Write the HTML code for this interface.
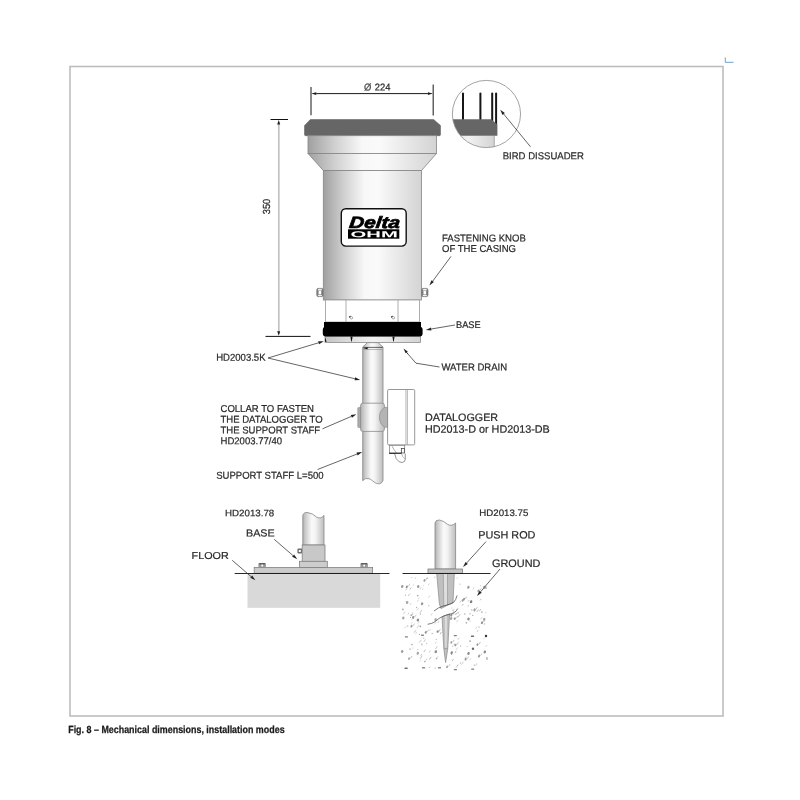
<!DOCTYPE html>
<html lang="en"><head><meta charset="utf-8"><title>Fig. 8 – Mechanical dimensions, installation modes</title>
<style>
html,body{margin:0;padding:0;background:#fff;}
body{width:800px;height:800px;overflow:hidden;position:relative;font-family:"Liberation Sans",sans-serif;}
svg{position:absolute;left:0;top:0;display:block;will-change:transform;}
svg text{font-family:"Liberation Sans",sans-serif;fill:#2a2a2a;stroke:#2a2a2a;stroke-width:0.22px;}
</style></head><body>
<svg width="800" height="800" viewBox="0 0 800 800">
<defs>
<linearGradient id="gBody" x1="0" x2="1" y1="0" y2="0">
 <stop offset="0" stop-color="#a0a0a0"/><stop offset="0.2" stop-color="#cecece"/><stop offset="0.42" stop-color="#f8f8f8"/><stop offset="0.56" stop-color="#fafafa"/><stop offset="1" stop-color="#d3d3d3"/>
</linearGradient>
<linearGradient id="gStaff" x1="0" x2="1" y1="0" y2="0">
 <stop offset="0" stop-color="#b2b2b2"/><stop offset="0.15" stop-color="#cfcfcf"/><stop offset="0.42" stop-color="#fafafa"/><stop offset="0.6" stop-color="#f3f3f3"/><stop offset="1" stop-color="#bdbdbd"/>
</linearGradient>
<linearGradient id="gPlate" x1="0" x2="1" y1="0" y2="0">
 <stop offset="0" stop-color="#c4c4c4"/><stop offset="0.5" stop-color="#f2f2f2"/><stop offset="1" stop-color="#d4d4d4"/>
</linearGradient>
<filter id="fBlur" x="-5%" y="-5%" width="110%" height="110%"><feGaussianBlur stdDeviation="0.35"/></filter>
<clipPath id="cDet"><ellipse cx="486.45" cy="114" rx="34" ry="33.5"/></clipPath>
</defs>
<rect x="70" y="66.5" width="653" height="649.5" fill="none" stroke="#bdbdbd" stroke-width="1.6"/>
<path d="M725.3 57.5 V62.3 H733.5" fill="none" stroke="#6f9fd4" stroke-width="1"/>
<line x1="311" y1="87" x2="311" y2="115.3" stroke="#3c3c3c" stroke-width="1.2"/>
<line x1="433.2" y1="84.5" x2="433.2" y2="115.5" stroke="#3c3c3c" stroke-width="1.2"/>
<line x1="372" y1="93.6" x2="316.30" y2="93.60" stroke="#1a1a1a" stroke-width="1.0"/><polygon points="311.3,93.6 316.30,92.30 316.30,94.90" fill="#1a1a1a"/>
<line x1="372" y1="93.6" x2="427.90" y2="93.60" stroke="#1a1a1a" stroke-width="1.0"/><polygon points="432.9,93.6 427.90,94.90 427.90,92.30" fill="#1a1a1a"/>
<text transform="translate(364.0 90.6) rotate(0.03) scale(1 1.05)" font-size="9.4" text-anchor="start" style="fill:#555">&#216;</text>
<text transform="translate(374.8 90.6) rotate(0.03) scale(1 1.05)" font-size="9.4" text-anchor="start" >224</text>
<line x1="270.5" y1="119.5" x2="288" y2="119.5" stroke="#111" stroke-width="1"/>
<line x1="265.5" y1="336.4" x2="310.5" y2="336.4" stroke="#111" stroke-width="1"/>
<line x1="278.8" y1="122" x2="278.8" y2="334" stroke="#c2c2c2" stroke-width="1.7"/>
<polygon points="278.7,120 280.2,124.6 277.2,124.6" fill="#222"/>
<polygon points="278.7,335.8 280.2,331.2 277.2,331.2" fill="#222"/>
<text transform="translate(270,206.5) rotate(-90.03) scale(1 1.1)" font-size="9.3" text-anchor="middle">350</text>
<path d="M310.3 119.5 H433.7 L440.5 125.5 V134.5 Q440.5 135.7 439.3 135.7 H305.7 Q304.5 135.7 304.5 134.5 V125.5 Z" fill="#666666" stroke="#5a5a5a" stroke-width="0.5"/>
<rect x="308" y="135.7" width="128.5" height="17.8" fill="url(#gBody)" stroke="#858585" stroke-width="0.8"/>
<path d="M308 153.5 H436.5 L421.5 170.5 H323.3 Z" fill="url(#gBody)" stroke="#858585" stroke-width="0.8"/>
<rect x="323.3" y="170.5" width="98.2" height="129.5" fill="url(#gBody)" stroke="#858585" stroke-width="0.8"/>
<rect x="316.6" y="288.3" width="6.6" height="8.4" rx="1.6" fill="#7c7c7c" stroke="#6a6a6a" stroke-width="0.4"/><ellipse cx="319.90000000000003" cy="289.65000000000003" rx="2.18" ry="0.85" fill="#f2f2f2"/><ellipse cx="319.90000000000003" cy="295.34999999999997" rx="2.18" ry="0.85" fill="#f2f2f2"/><rect x="318.6" y="290.9" width="2.6" height="3.2" fill="#fff"/>
<rect x="421.5" y="288.3" width="6.6" height="8.4" rx="1.6" fill="#7c7c7c" stroke="#6a6a6a" stroke-width="0.4"/><ellipse cx="424.8" cy="289.65000000000003" rx="2.18" ry="0.85" fill="#f2f2f2"/><ellipse cx="424.8" cy="295.34999999999997" rx="2.18" ry="0.85" fill="#f2f2f2"/><rect x="423.5" y="290.9" width="2.6" height="3.2" fill="#fff"/>
<rect x="325.5" y="300" width="94" height="22" fill="#fff" stroke="#999" stroke-width="0.8"/>
<line x1="346" y1="300" x2="346" y2="322" stroke="#999" stroke-width="0.8"/>
<line x1="398" y1="300" x2="398" y2="322" stroke="#999" stroke-width="0.8"/>
<ellipse cx="351.1" cy="317.6" rx="1.6" ry="1.2" fill="#fff" stroke="#555" stroke-width="0.5" transform="rotate(30 351.1 317.6)"/>
<circle cx="349.9" cy="316.8" r="0.8" fill="#222"/>
<ellipse cx="393.1" cy="317.6" rx="1.6" ry="1.2" fill="#fff" stroke="#555" stroke-width="0.5" transform="rotate(30 393.1 317.6)"/>
<circle cx="391.9" cy="316.8" r="0.8" fill="#222"/>
<rect x="325" y="336" width="95.5" height="6.4" fill="url(#gPlate)" stroke="#8a8a8a" stroke-width="0.8"/>
<rect x="324" y="322" width="97" height="6" fill="#000"/>
<rect x="322.8" y="326.8" width="99.8" height="9.8" rx="3" fill="#000"/>
<polygon points="350.4,336.6 352.6,336.6 351.8,341.4 351.2,341.4" fill="#111"/>
<polygon points="392.4,336.6 394.6,336.6 393.8,341.4 393.2,341.4" fill="#111"/>
<polygon points="325,337.2 326.6,341.8 325,341.8" fill="#111"/>
<path d="M367.5 342.6 H378 L383 347 V480.5 Q382 483.2 379.5 483.7 C375 484.5 373 480 369 478.7 Q365 477.6 362.7 480.7 V347 Z" fill="url(#gStaff)" stroke="#858585" stroke-width="0.8"/>
<line x1="363.2" y1="347.4" x2="382.6" y2="347.4" stroke="#2a2a2a" stroke-width="0.7"/>
<line x1="363.2" y1="349.5" x2="382.6" y2="349.5" stroke="#8a8a8a" stroke-width="0.6"/>
<polygon points="363.4,348.3 367.6,347.2 367.6,349.3" fill="#111"/>
<rect x="387.6" y="389.5" width="27.1" height="55.4" rx="1.2" fill="#fff" stroke="#8c8c8c" stroke-width="0.9"/>
<line x1="405.9" y1="389.5" x2="405.9" y2="444.9" stroke="#9a9a9a" stroke-width="0.7"/>
<line x1="407.4" y1="389.5" x2="407.4" y2="444.9" stroke="#9a9a9a" stroke-width="0.7"/>
<rect x="389.5" y="445.3" width="15.2" height="8" fill="#fff" stroke="#777" stroke-width="0.7"/>
<rect x="401.3" y="448.5" width="3" height="4.5" fill="#fff" stroke="#333" stroke-width="0.7"/>
<path d="M392 446 Q394 450 396.5 453" fill="none" stroke="#777" stroke-width="0.6"/>
<path d="M394.6 453.6 Q395.6 459.6 399.2 461.8 Q402.5 463.4 404.6 461.4 Q405.8 459.8 405.2 453.6" fill="#fff" stroke="#666" stroke-width="0.7"/>
<path d="M401.4 453.6 Q402.4 457 405.3 459.2" fill="none" stroke="#888" stroke-width="0.6"/>
<line x1="389.2" y1="453.2" x2="401.6" y2="453.2" stroke="#111" stroke-width="1.1"/>
<rect x="357.8" y="407.4" width="3.4" height="20.2" rx="0.8" fill="#ababab" stroke="#8a8a8a" stroke-width="0.6"/>
<rect x="360.6" y="403.2" width="23.8" height="28.2" rx="2.2" fill="url(#gStaff)" stroke="#8a8a8a" stroke-width="0.8"/>
<path d="M387.5 407.4 H384.5 Q379.4 411 379.4 417.3 Q379.4 423.6 384.5 427.2 H387.5 Z" fill="#b4b4b4" stroke="#8a8a8a" stroke-width="0.7"/>
<g clip-path="url(#cDet)">
<rect x="440" y="135.7" width="54.5" height="20" fill="url(#gPlate)"/>
<line x1="494.2" y1="135.7" x2="494.2" y2="150" stroke="#aaa" stroke-width="1"/>
<line x1="463" y1="93.6" x2="463" y2="119.5" stroke="#161616" stroke-width="2" stroke-linecap="round"/>
<line x1="480.4" y1="93.6" x2="480.4" y2="119.5" stroke="#161616" stroke-width="2" stroke-linecap="round"/>
<line x1="492.2" y1="93.6" x2="492.2" y2="121" stroke="#161616" stroke-width="2" stroke-linecap="round"/>
<line x1="496.1" y1="93.6" x2="496.1" y2="124.6" stroke="#161616" stroke-width="2" stroke-linecap="round"/>
<path d="M440 119.3 H491.2 L497.4 124.6 V135.8 H440 Z" fill="#666"/>
</g>
<ellipse cx="486.45" cy="114" rx="34.1" ry="33.6" fill="none" stroke="#8c8c8c" stroke-width="0.8"/>
<line x1="530.5" y1="146.8" x2="503.68" y2="114.06" stroke="#222" stroke-width="0.7"/><polygon points="500.2,109.8 504.85,113.10 502.52,115.01" fill="#222"/>
<text transform="translate(502.7 159.3) rotate(0.03) scale(1 1.05)" font-size="9.55" text-anchor="start" >BIRD DISSUADER</text>
<text transform="translate(442 241.4) rotate(0.03) scale(1 1.05)" font-size="9.55" text-anchor="start" >FASTENING KNOB</text>
<text transform="translate(442 252.0) rotate(0.03) scale(1 1.05)" font-size="9.55" text-anchor="start" >OF THE CASING</text>
<line x1="451" y1="256.4" x2="432.67" y2="281.18" stroke="#222" stroke-width="0.7"/><polygon points="429.4,285.6 431.46,280.29 433.88,282.07" fill="#222"/>
<text transform="translate(456 328.1) rotate(0.03) scale(1 1.05)" font-size="9.2" text-anchor="start" >BASE</text>
<line x1="455" y1="325" x2="431.22" y2="328.99" stroke="#222" stroke-width="0.7"/><polygon points="425.8,329.9 430.98,327.51 431.47,330.47" fill="#222"/>
<text transform="translate(441.4 370.4) rotate(0.03) scale(1 1.05)" font-size="9.55" text-anchor="start" >WATER DRAIN</text>
<path d="M439.5 367 L416 363.2 L406 351.8" fill="none" stroke="#222" stroke-width="0.7"/>
<line x1="408" y1="354" x2="406.70" y2="352.44" stroke="#222" stroke-width="0.7"/><polygon points="403.5,348.6 407.78,351.54 405.63,353.34" fill="#222"/>
<text transform="translate(216.2 360.8) rotate(0.03) scale(1 1.05)" font-size="9.55" text-anchor="start" >HD2003.5K</text>
<line x1="268" y1="358" x2="318.53" y2="342.79" stroke="#222" stroke-width="0.7"/><polygon points="323.8,341.2 318.97,344.22 318.10,341.35" fill="#222"/>
<line x1="268" y1="358" x2="354.85" y2="378.72" stroke="#222" stroke-width="0.7"/><polygon points="360.2,380 354.50,380.18 355.20,377.26" fill="#222"/>
<text transform="translate(220.5 412.0) rotate(0.03) scale(1 1.05)" font-size="9.55" text-anchor="start" >COLLAR TO FASTEN</text>
<text transform="translate(220.5 422.75) rotate(0.03) scale(1 1.05)" font-size="9.55" text-anchor="start" >THE DATALOGGER TO</text>
<text transform="translate(220.5 433.5) rotate(0.03) scale(1 1.05)" font-size="9.55" text-anchor="start" >THE SUPPORT STAFF</text>
<text transform="translate(220.5 444.25) rotate(0.03) scale(1 1.05)" font-size="9.55" text-anchor="start" >HD2003.77/40</text>
<line x1="322.5" y1="428.8" x2="351.35" y2="416.38" stroke="#222" stroke-width="0.7"/><polygon points="356.4,414.2 351.94,417.75 350.76,415.00" fill="#222"/>
<text transform="translate(216.2 478.8) rotate(0.03) scale(1 1.05)" font-size="9.55" text-anchor="start" >SUPPORT STAFF L=500</text>
<line x1="317.5" y1="469.5" x2="357.08" y2="454.01" stroke="#222" stroke-width="0.7"/><polygon points="362.2,452 357.63,455.40 356.53,452.61" fill="#222"/>
<text transform="translate(425.0 421) rotate(0.03) scale(1 1.0)" font-size="10.75" text-anchor="start" >DATALOGGER</text>
<text transform="translate(425.0 432.8) rotate(0.03) scale(1 1.0)" font-size="10.8" text-anchor="start" >HD2013-D or HD2013-DB</text>
<text transform="translate(225.0 516.3) rotate(0.03) scale(1 0.97)" font-size="9.75" text-anchor="start" >HD2013.78</text>
<text transform="translate(246 536.5) rotate(0.03) scale(1 0.96)" font-size="10.75" text-anchor="start" >BASE</text>
<text transform="translate(191.6 558.9) rotate(0.03) scale(1 0.93)" font-size="10.8" text-anchor="start" >FLOOR</text>
<rect x="247.5" y="573.5" width="132.7" height="34.3" fill="#d9d9d9"/>
<path d="M302.8 545 V515.5 Q303.5 512 308 512.6 Q313 513.6 316.5 517 Q320.5 519.5 324 515.4 V545 Z" fill="url(#gStaff)" stroke="#858585" stroke-width="0.8"/>
<rect x="297.4" y="548.4" width="4.8" height="5.1" rx="1" fill="#6e6e6e"/><rect x="298.8" y="550" width="2" height="2" fill="#fff"/>
<rect x="302.2" y="545" width="22.8" height="16.4" fill="#c8c8c8" stroke="#808080" stroke-width="0.8"/>
<rect x="299.5" y="561.3" width="27.8" height="6.3" fill="#cdcdcd" stroke="#808080" stroke-width="0.8"/>
<rect x="258.4" y="563" width="7.5" height="4.6" rx="1.2" fill="#9a9a9a"/>
<rect x="259.0" y="563" width="6.3" height="1.5" rx="0.7" fill="#5e5e5e"/>
<rect x="261.4" y="564.6" width="1.7" height="1.9" fill="#fff"/>
<rect x="360.4" y="563" width="7.5" height="4.6" rx="1.2" fill="#9a9a9a"/>
<rect x="361.0" y="563" width="6.3" height="1.5" rx="0.7" fill="#5e5e5e"/>
<rect x="363.4" y="564.6" width="1.7" height="1.9" fill="#fff"/>
<rect x="254.2" y="567.5" width="118.4" height="5.8" fill="#cbcbcb" stroke="#808080" stroke-width="0.8"/>
<line x1="234.7" y1="573.5" x2="389.5" y2="573.5" stroke="#111" stroke-width="0.9"/>
<line x1="274.2" y1="539.3" x2="293.14" y2="555.70" stroke="#222" stroke-width="0.7"/><polygon points="297.3,559.3 292.16,556.83 294.12,554.57" fill="#222"/>
<line x1="232.2" y1="560.3" x2="251.23" y2="576.71" stroke="#222" stroke-width="0.7"/><polygon points="255.4,580.3 250.25,577.84 252.21,575.57" fill="#222"/>
<text transform="translate(479.3 516.1) rotate(0.03) scale(1 0.97)" font-size="9.7" text-anchor="start" >HD2013.75</text>
<text transform="translate(478.2 538.5) rotate(0.03) scale(1 0.98)" font-size="10.85" text-anchor="start" >PUSH ROD</text>
<text transform="translate(492.0 567.0) rotate(0.03) scale(1 1.0)" font-size="10.9" text-anchor="start" >GROUND</text>
<line x1="486" y1="541.6" x2="466.69" y2="562.92" stroke="#222" stroke-width="0.7"/><polygon points="463,567 465.58,561.92 467.80,563.93" fill="#222"/>
<line x1="500" y1="569" x2="480.57" y2="591.81" stroke="#222" stroke-width="0.7"/><polygon points="477,596 479.42,590.84 481.71,592.79" fill="#222"/>
<g filter="url(#fBlur)"><line x1="480.6" y1="619.4" x2="482.0" y2="617.2" stroke="#cfcfcf" stroke-width="0.9"/><line x1="417.7" y1="623.6" x2="419.3" y2="621.1" stroke="#cfcfcf" stroke-width="0.9"/><line x1="410.0" y1="604.6" x2="410.9" y2="603.2" stroke="#c4c4c4" stroke-width="0.9"/><line x1="452.6" y1="613.1" x2="454.0" y2="610.9" stroke="#cfcfcf" stroke-width="0.9"/><line x1="455.0" y1="652.7" x2="455.9" y2="651.3" stroke="#c4c4c4" stroke-width="0.9"/><line x1="418.2" y1="599.0" x2="419.0" y2="597.7" stroke="#d6d6d6" stroke-width="0.9"/><line x1="429.7" y1="630.8" x2="430.8" y2="629.2" stroke="#cfcfcf" stroke-width="0.9"/><line x1="456.4" y1="622.5" x2="458.1" y2="620.0" stroke="#d6d6d6" stroke-width="0.9"/><line x1="457.7" y1="614.0" x2="459.2" y2="611.7" stroke="#c4c4c4" stroke-width="0.9"/><line x1="462.2" y1="605.7" x2="463.3" y2="604.0" stroke="#b8b8b8" stroke-width="0.9"/><line x1="404.5" y1="628.2" x2="405.5" y2="626.8" stroke="#c4c4c4" stroke-width="0.9"/><line x1="474.0" y1="612.2" x2="476.0" y2="609.1" stroke="#c4c4c4" stroke-width="0.9"/><line x1="420.1" y1="661.4" x2="421.0" y2="660.0" stroke="#d6d6d6" stroke-width="0.9"/><line x1="485.3" y1="613.2" x2="486.2" y2="611.8" stroke="#cfcfcf" stroke-width="0.9"/><line x1="468.2" y1="601.5" x2="469.1" y2="600.1" stroke="#b8b8b8" stroke-width="0.9"/><line x1="403.3" y1="614.3" x2="405.3" y2="611.3" stroke="#cfcfcf" stroke-width="0.9"/><line x1="422.9" y1="586.2" x2="423.8" y2="584.8" stroke="#d6d6d6" stroke-width="0.9"/><line x1="417.1" y1="627.9" x2="418.5" y2="625.8" stroke="#cfcfcf" stroke-width="0.9"/><line x1="485.7" y1="647.0" x2="487.1" y2="645.0" stroke="#d6d6d6" stroke-width="0.9"/><line x1="411.9" y1="615.3" x2="413.0" y2="613.6" stroke="#b8b8b8" stroke-width="0.9"/><line x1="475.5" y1="665.7" x2="477.0" y2="663.3" stroke="#c4c4c4" stroke-width="0.9"/><line x1="419.9" y1="612.9" x2="421.8" y2="610.0" stroke="#c4c4c4" stroke-width="0.9"/><line x1="405.6" y1="590.3" x2="407.0" y2="588.2" stroke="#c4c4c4" stroke-width="0.9"/><line x1="467.7" y1="606.9" x2="468.9" y2="605.1" stroke="#c4c4c4" stroke-width="0.9"/><line x1="408.3" y1="596.0" x2="409.9" y2="593.5" stroke="#c4c4c4" stroke-width="0.9"/><line x1="453.1" y1="610.8" x2="454.5" y2="608.7" stroke="#d6d6d6" stroke-width="0.9"/><line x1="472.8" y1="589.4" x2="474.1" y2="587.4" stroke="#cfcfcf" stroke-width="0.9"/><line x1="428.4" y1="597.8" x2="430.0" y2="595.4" stroke="#cfcfcf" stroke-width="0.9"/><line x1="415.5" y1="634.2" x2="417.0" y2="631.9" stroke="#d6d6d6" stroke-width="0.9"/><line x1="477.0" y1="631.9" x2="478.3" y2="629.9" stroke="#c4c4c4" stroke-width="0.9"/><line x1="411.3" y1="623.6" x2="412.4" y2="621.9" stroke="#d6d6d6" stroke-width="0.9"/><line x1="423.8" y1="652.0" x2="425.4" y2="649.6" stroke="#b8b8b8" stroke-width="0.9"/><line x1="485.1" y1="588.5" x2="486.5" y2="586.3" stroke="#c4c4c4" stroke-width="0.9"/><line x1="425.8" y1="660.5" x2="426.9" y2="658.8" stroke="#c4c4c4" stroke-width="0.9"/><line x1="407.9" y1="614.4" x2="409.0" y2="612.7" stroke="#c4c4c4" stroke-width="0.9"/><line x1="417.0" y1="610.6" x2="418.5" y2="608.2" stroke="#cfcfcf" stroke-width="0.9"/><line x1="409.8" y1="589.6" x2="411.2" y2="587.5" stroke="#b8b8b8" stroke-width="0.9"/><line x1="457.8" y1="639.9" x2="459.4" y2="637.5" stroke="#cfcfcf" stroke-width="0.9"/><line x1="452.1" y1="661.0" x2="453.6" y2="658.9" stroke="#b8b8b8" stroke-width="0.9"/><line x1="461.6" y1="664.6" x2="462.4" y2="663.3" stroke="#c4c4c4" stroke-width="0.9"/><line x1="429.1" y1="667.9" x2="430.0" y2="666.6" stroke="#b8b8b8" stroke-width="0.9"/><line x1="464.6" y1="658.9" x2="466.4" y2="656.3" stroke="#cfcfcf" stroke-width="0.9"/><line x1="469.4" y1="660.3" x2="470.7" y2="658.3" stroke="#d6d6d6" stroke-width="0.9"/><line x1="478.6" y1="656.3" x2="479.9" y2="654.2" stroke="#c4c4c4" stroke-width="0.9"/><line x1="475.4" y1="629.1" x2="477.0" y2="626.7" stroke="#d6d6d6" stroke-width="0.9"/><line x1="434.2" y1="578.1" x2="435.1" y2="576.7" stroke="#c4c4c4" stroke-width="0.9"/><line x1="456.3" y1="667.4" x2="458.3" y2="664.5" stroke="#b8b8b8" stroke-width="0.9"/><line x1="435.0" y1="643.9" x2="436.6" y2="641.5" stroke="#d6d6d6" stroke-width="0.9"/><line x1="428.4" y1="585.0" x2="429.2" y2="583.7" stroke="#c4c4c4" stroke-width="0.9"/><line x1="480.2" y1="600.3" x2="481.1" y2="599.0" stroke="#b8b8b8" stroke-width="0.9"/><line x1="414.2" y1="632.7" x2="415.7" y2="630.4" stroke="#b8b8b8" stroke-width="0.9"/><line x1="458.1" y1="617.2" x2="460.1" y2="614.3" stroke="#b8b8b8" stroke-width="0.9"/><line x1="455.9" y1="650.1" x2="457.7" y2="647.5" stroke="#cfcfcf" stroke-width="0.9"/><line x1="476.8" y1="612.0" x2="478.4" y2="609.6" stroke="#b8b8b8" stroke-width="0.9"/><line x1="419.8" y1="589.2" x2="421.1" y2="587.3" stroke="#c4c4c4" stroke-width="0.9"/><line x1="462.5" y1="663.5" x2="463.6" y2="661.7" stroke="#cfcfcf" stroke-width="0.9"/><line x1="411.6" y1="619.9" x2="413.6" y2="616.9" stroke="#d6d6d6" stroke-width="0.9"/><line x1="434.5" y1="624.3" x2="436.2" y2="621.8" stroke="#d6d6d6" stroke-width="0.9"/><line x1="429.2" y1="652.4" x2="430.4" y2="650.6" stroke="#c4c4c4" stroke-width="0.9"/><line x1="459.7" y1="602.6" x2="460.9" y2="600.7" stroke="#c4c4c4" stroke-width="0.9"/><line x1="456.5" y1="613.9" x2="457.5" y2="612.3" stroke="#b8b8b8" stroke-width="0.9"/><line x1="422.2" y1="589.8" x2="423.1" y2="588.5" stroke="#c4c4c4" stroke-width="0.9"/><line x1="440.0" y1="634.3" x2="441.6" y2="631.8" stroke="#b8b8b8" stroke-width="0.9"/><line x1="483.5" y1="639.3" x2="484.5" y2="637.7" stroke="#d6d6d6" stroke-width="0.9"/><line x1="423.8" y1="642.0" x2="425.5" y2="639.3" stroke="#c4c4c4" stroke-width="0.9"/><line x1="417.2" y1="601.8" x2="418.5" y2="599.9" stroke="#cfcfcf" stroke-width="0.9"/><line x1="435.4" y1="649.1" x2="437.4" y2="646.1" stroke="#c4c4c4" stroke-width="0.9"/><line x1="436.9" y1="658.2" x2="438.2" y2="656.2" stroke="#d6d6d6" stroke-width="0.9"/><line x1="479.3" y1="611.3" x2="480.9" y2="609.0" stroke="#b8b8b8" stroke-width="0.9"/><line x1="419.4" y1="642.7" x2="421.3" y2="639.9" stroke="#c4c4c4" stroke-width="0.9"/><line x1="420.1" y1="658.9" x2="422.2" y2="655.8" stroke="#b8b8b8" stroke-width="0.9"/><line x1="429.2" y1="659.8" x2="431.1" y2="656.9" stroke="#b8b8b8" stroke-width="0.9"/><line x1="431.1" y1="615.3" x2="432.2" y2="613.6" stroke="#c4c4c4" stroke-width="0.9"/><line x1="420.6" y1="655.9" x2="421.9" y2="653.9" stroke="#c4c4c4" stroke-width="0.9"/><circle cx="416.7" cy="607.5" r="0.69" fill="#b0b0b0"/><circle cx="487.0" cy="659.0" r="0.84" fill="#a4a4a4"/><circle cx="460.6" cy="663.1" r="0.73" fill="#c0c0c0"/><circle cx="460.6" cy="646.0" r="0.71" fill="#c0c0c0"/><circle cx="426.7" cy="643.3" r="0.57" fill="#a4a4a4"/><circle cx="423.8" cy="638.1" r="0.58" fill="#a4a4a4"/><circle cx="474.3" cy="665.1" r="0.61" fill="#a4a4a4"/><circle cx="411.7" cy="577.4" r="0.51" fill="#c0c0c0"/><circle cx="484.4" cy="624.0" r="0.72" fill="#c0c0c0"/><circle cx="486.1" cy="588.1" r="0.78" fill="#b0b0b0"/><circle cx="407.6" cy="626.0" r="0.87" fill="#c0c0c0"/><circle cx="470.0" cy="613.8" r="0.69" fill="#b0b0b0"/><circle cx="412.8" cy="616.5" r="0.71" fill="#c0c0c0"/><circle cx="411.2" cy="615.2" r="0.87" fill="#b0b0b0"/><circle cx="413.0" cy="647.9" r="0.51" fill="#b0b0b0"/><circle cx="415.2" cy="578.1" r="0.63" fill="#c0c0c0"/><circle cx="432.2" cy="633.4" r="0.70" fill="#b0b0b0"/><circle cx="451.5" cy="654.5" r="0.60" fill="#a4a4a4"/><circle cx="418.8" cy="625.3" r="0.51" fill="#c0c0c0"/><circle cx="455.8" cy="652.1" r="0.56" fill="#a4a4a4"/><circle cx="419.4" cy="634.4" r="0.59" fill="#a4a4a4"/><circle cx="420.4" cy="626.4" r="0.84" fill="#a4a4a4"/><circle cx="421.8" cy="644.4" r="0.86" fill="#c0c0c0"/><circle cx="428.8" cy="605.7" r="0.59" fill="#b0b0b0"/><circle cx="486.9" cy="657.8" r="0.86" fill="#b0b0b0"/><circle cx="413.3" cy="585.0" r="0.54" fill="#c0c0c0"/><circle cx="472.7" cy="615.4" r="0.55" fill="#a4a4a4"/><circle cx="436.2" cy="639.4" r="0.54" fill="#b0b0b0"/><circle cx="471.8" cy="609.9" r="0.70" fill="#a4a4a4"/><circle cx="466.4" cy="622.8" r="0.83" fill="#a4a4a4"/><circle cx="470.2" cy="620.9" r="0.51" fill="#b0b0b0"/><circle cx="417.7" cy="595.6" r="0.90" fill="#b0b0b0"/><circle cx="480.8" cy="585.7" r="0.55" fill="#b0b0b0"/><circle cx="459.9" cy="584.1" r="0.63" fill="#b0b0b0"/><circle cx="438.6" cy="631.7" r="0.75" fill="#b0b0b0"/><circle cx="405.5" cy="595.2" r="0.68" fill="#c0c0c0"/><circle cx="464.8" cy="613.9" r="0.74" fill="#b0b0b0"/><circle cx="410.1" cy="649.1" r="0.86" fill="#c0c0c0"/><circle cx="470.1" cy="641.1" r="0.88" fill="#a4a4a4"/><circle cx="451.7" cy="608.0" r="0.61" fill="#c0c0c0"/><circle cx="411.9" cy="644.6" r="0.83" fill="#b0b0b0"/><circle cx="436.5" cy="658.6" r="0.78" fill="#a4a4a4"/><circle cx="467.2" cy="646.6" r="0.58" fill="#c0c0c0"/><circle cx="417.7" cy="649.6" r="0.69" fill="#c0c0c0"/><circle cx="402.9" cy="609.4" r="0.86" fill="#a4a4a4"/><circle cx="406.2" cy="601.8" r="0.62" fill="#a4a4a4"/><circle cx="420.4" cy="614.0" r="0.71" fill="#b0b0b0"/><circle cx="435.1" cy="668.0" r="0.59" fill="#a4a4a4"/><circle cx="412.2" cy="613.0" r="0.51" fill="#a4a4a4"/><circle cx="454.3" cy="644.2" r="0.68" fill="#c0c0c0"/><circle cx="457.1" cy="578.0" r="0.60" fill="#c0c0c0"/><circle cx="479.0" cy="627.1" r="0.67" fill="#a4a4a4"/><circle cx="410.5" cy="617.4" r="0.53" fill="#a4a4a4"/><circle cx="452.8" cy="646.1" r="0.65" fill="#b0b0b0"/><circle cx="481.8" cy="612.1" r="0.84" fill="#b0b0b0"/><circle cx="438.5" cy="622.0" r="0.71" fill="#c0c0c0"/><circle cx="452.8" cy="610.3" r="0.69" fill="#c0c0c0"/><circle cx="424.9" cy="661.6" r="0.79" fill="#a4a4a4"/><circle cx="427.2" cy="578.3" r="0.73" fill="#b0b0b0"/><circle cx="455.8" cy="614.2" r="0.66" fill="#a4a4a4"/><ellipse cx="477.5" cy="644.6" rx="1.0" ry="1.4" fill="#9c9c9c" transform="rotate(30 477.5 644.6)"/><line x1="479.1" y1="644.1" x2="480.4" y2="642.0" stroke="#b4b4b4" stroke-width="0.8"/><ellipse cx="451.3" cy="642.4" rx="1.0" ry="1.4" fill="#a8a8a8" transform="rotate(30 451.3 642.4)"/><line x1="452.9" y1="641.9" x2="454.2" y2="639.8" stroke="#b4b4b4" stroke-width="0.8"/><ellipse cx="409.1" cy="658.6" rx="1.0" ry="1.4" fill="#a8a8a8" transform="rotate(30 409.1 658.6)"/><line x1="410.7" y1="658.1" x2="412.0" y2="656.0" stroke="#b4b4b4" stroke-width="0.8"/><ellipse cx="462.7" cy="600.3" rx="1.0" ry="1.4" fill="#9c9c9c" transform="rotate(30 462.7 600.3)"/><line x1="464.3" y1="599.8" x2="465.6" y2="597.7" stroke="#b4b4b4" stroke-width="0.8"/><ellipse cx="406.8" cy="586.8" rx="1.0" ry="1.4" fill="#909090" transform="rotate(30 406.8 586.8)"/><line x1="408.4" y1="586.3" x2="409.7" y2="584.2" stroke="#b4b4b4" stroke-width="0.8"/><ellipse cx="478.5" cy="590.8" rx="1.0" ry="1.4" fill="#9c9c9c" transform="rotate(30 478.5 590.8)"/><line x1="480.1" y1="590.3" x2="481.4" y2="588.2" stroke="#b4b4b4" stroke-width="0.8"/><ellipse cx="454.8" cy="618.6" rx="1.0" ry="1.4" fill="#9c9c9c" transform="rotate(30 454.8 618.6)"/><line x1="456.4" y1="618.1" x2="457.7" y2="616.0" stroke="#b4b4b4" stroke-width="0.8"/><ellipse cx="474.5" cy="609.7" rx="1.0" ry="1.4" fill="#9c9c9c" transform="rotate(30 474.5 609.7)"/><line x1="476.1" y1="609.2" x2="477.4" y2="607.1" stroke="#b4b4b4" stroke-width="0.8"/><ellipse cx="413.3" cy="617.4" rx="1.0" ry="1.4" fill="#909090" transform="rotate(30 413.3 617.4)"/><line x1="414.9" y1="616.9" x2="416.2" y2="614.8" stroke="#b4b4b4" stroke-width="0.8"/><ellipse cx="437.6" cy="631.5" rx="1.0" ry="1.4" fill="#909090" transform="rotate(30 437.6 631.5)"/><line x1="439.2" y1="631.0" x2="440.5" y2="628.9" stroke="#b4b4b4" stroke-width="0.8"/><ellipse cx="451.3" cy="615.3" rx="1.0" ry="1.4" fill="#909090" transform="rotate(30 451.3 615.3)"/><line x1="452.9" y1="614.8" x2="454.2" y2="612.7" stroke="#b4b4b4" stroke-width="0.8"/><ellipse cx="447.1" cy="666.8" rx="1.0" ry="1.4" fill="#a8a8a8" transform="rotate(30 447.1 666.8)"/><line x1="448.7" y1="666.3" x2="450.0" y2="664.2" stroke="#b4b4b4" stroke-width="0.8"/><ellipse cx="463.9" cy="599.2" rx="1.0" ry="1.4" fill="#9c9c9c" transform="rotate(30 463.9 599.2)"/><line x1="465.5" y1="598.7" x2="466.8" y2="596.6" stroke="#b4b4b4" stroke-width="0.8"/><ellipse cx="425.8" cy="632.3" rx="1.0" ry="1.4" fill="#909090" transform="rotate(30 425.8 632.3)"/><line x1="427.4" y1="631.8" x2="428.7" y2="629.7" stroke="#b4b4b4" stroke-width="0.8"/><ellipse cx="455.5" cy="645.0" rx="1.0" ry="1.4" fill="#9c9c9c" transform="rotate(30 455.5 645.0)"/><line x1="457.1" y1="644.5" x2="458.4" y2="642.4" stroke="#b4b4b4" stroke-width="0.8"/><ellipse cx="482.0" cy="622.7" rx="1.0" ry="1.4" fill="#909090" transform="rotate(30 482.0 622.7)"/><line x1="483.6" y1="622.2" x2="484.9" y2="620.1" stroke="#b4b4b4" stroke-width="0.8"/><ellipse cx="479.0" cy="656.2" rx="1.0" ry="1.4" fill="#9c9c9c" transform="rotate(30 479.0 656.2)"/><line x1="480.6" y1="655.7" x2="481.9" y2="653.6" stroke="#b4b4b4" stroke-width="0.8"/><ellipse cx="424.5" cy="580.4" rx="1.0" ry="1.4" fill="#9c9c9c" transform="rotate(30 424.5 580.4)"/><line x1="426.1" y1="579.9" x2="427.4" y2="577.8" stroke="#b4b4b4" stroke-width="0.8"/><ellipse cx="411.5" cy="626.2" rx="1.0" ry="1.4" fill="#9c9c9c" transform="rotate(30 411.5 626.2)"/><line x1="413.1" y1="625.7" x2="414.4" y2="623.6" stroke="#b4b4b4" stroke-width="0.8"/><ellipse cx="465.7" cy="659.2" rx="1.0" ry="1.4" fill="#9c9c9c" transform="rotate(30 465.7 659.2)"/><line x1="467.3" y1="658.7" x2="468.6" y2="656.6" stroke="#b4b4b4" stroke-width="0.8"/><ellipse cx="402.2" cy="586.4" rx="1.2" ry="1.5" fill="#9a9a9a" transform="rotate(25 402.2 586.4)"/><ellipse cx="418.2" cy="586.5" rx="1.2" ry="1.5" fill="#9a9a9a" transform="rotate(25 418.2 586.5)"/><ellipse cx="468.4" cy="587.3" rx="1.2" ry="1.5" fill="#9a9a9a" transform="rotate(25 468.4 587.3)"/><ellipse cx="484.5" cy="587.2" rx="1.2" ry="1.5" fill="#7c7c7c" transform="rotate(25 484.5 587.2)"/><ellipse cx="407.2" cy="602.6" rx="1.2" ry="1.5" fill="#a6a6a6" transform="rotate(25 407.2 602.6)"/><ellipse cx="422.1" cy="603.8" rx="1.2" ry="1.5" fill="#9a9a9a" transform="rotate(25 422.1 603.8)"/><ellipse cx="471.1" cy="601.7" rx="1.2" ry="1.5" fill="#7c7c7c" transform="rotate(25 471.1 601.7)"/><ellipse cx="403.3" cy="618.0" rx="1.2" ry="1.5" fill="#a6a6a6" transform="rotate(25 403.3 618.0)"/><ellipse cx="417.9" cy="620.0" rx="1.2" ry="1.5" fill="#8a8a8a" transform="rotate(25 417.9 620.0)"/><ellipse cx="435.6" cy="619.5" rx="1.2" ry="1.5" fill="#a6a6a6" transform="rotate(25 435.6 619.5)"/><ellipse cx="451.1" cy="618.4" rx="1.2" ry="1.5" fill="#a6a6a6" transform="rotate(25 451.1 618.4)"/><ellipse cx="468.5" cy="619.0" rx="1.2" ry="1.5" fill="#8a8a8a" transform="rotate(25 468.5 619.0)"/><ellipse cx="484.2" cy="619.3" rx="1.2" ry="1.5" fill="#a6a6a6" transform="rotate(25 484.2 619.3)"/><rect x="404.8" y="636.2" width="3.2" height="1.4" rx="0.6" fill="#808080"/><rect x="420.9" y="634.5" width="3.2" height="1.4" rx="0.6" fill="#8c8c8c"/><rect x="453.7" y="634.9" width="3.2" height="1.4" rx="0.6" fill="#808080"/><rect x="470.9" y="635.6" width="3.2" height="1.4" rx="0.6" fill="#6e6e6e"/><ellipse cx="402.2" cy="651.5" rx="1.2" ry="1.5" fill="#9a9a9a" transform="rotate(25 402.2 651.5)"/><ellipse cx="417.8" cy="653.3" rx="1.2" ry="1.5" fill="#a6a6a6" transform="rotate(25 417.8 653.3)"/><ellipse cx="435.8" cy="651.7" rx="1.2" ry="1.5" fill="#8a8a8a" transform="rotate(25 435.8 651.7)"/><ellipse cx="451.7" cy="652.7" rx="1.2" ry="1.5" fill="#8a8a8a" transform="rotate(25 451.7 652.7)"/><ellipse cx="468.5" cy="653.4" rx="1.2" ry="1.5" fill="#8a8a8a" transform="rotate(25 468.5 653.4)"/><ellipse cx="484.8" cy="651.9" rx="1.2" ry="1.5" fill="#8a8a8a" transform="rotate(25 484.8 651.9)"/><rect x="404.5" y="667.6" width="3.2" height="1.4" rx="0.6" fill="#6e6e6e"/><rect x="422.0" y="667.1" width="3.2" height="1.4" rx="0.6" fill="#8c8c8c"/><rect x="437.9" y="667.1" width="3.2" height="1.4" rx="0.6" fill="#8c8c8c"/><rect x="453.8" y="668.9" width="3.2" height="1.4" rx="0.6" fill="#808080"/><rect x="471.1" y="668.4" width="3.2" height="1.4" rx="0.6" fill="#808080"/><circle cx="486" cy="636" r="1.2" fill="#333"/><circle cx="473" cy="648.7" r="1.2" fill="#666"/></g>
<path d="M436.7 573.5 H454.3 L453 603 Q447 605 441 608.6 L439.4 604 Z" fill="#c0c0c0" stroke="#8a8a8a" stroke-width="0.7"/>
<path d="M443.3 573.5 L443.8 606.5 L447.5 605 L447.5 573.5 Z" fill="#dedede" stroke="#8f8f8f" stroke-width="0.6"/>
<path d="M442 617.2 Q446 614.8 449.6 613.8 L447.8 648.4 L445.6 662.6 L443.8 648.4 Z" fill="#c0c0c0" stroke="#8a8a8a" stroke-width="0.7"/>
<path d="M444.8 616 L445.2 648 L446.6 648 L447 615" fill="#dcdcdc" stroke="none"/>
<line x1="443.8" y1="648.4" x2="447.8" y2="648.4" stroke="#888" stroke-width="0.6"/>
<path d="M434 611 Q438 607.5 443.4 606 Q450 604.5 453.7 602.3 Q456 600 457.1 595.4" fill="none" stroke="#444" stroke-width="0.7"/>
<path d="M427.6 624.3 Q432 623.8 435.1 621.6 Q439 618 443.4 616 Q449 614.5 453 613.3 Q456.5 611.5 457.8 608.5" fill="none" stroke="#444" stroke-width="0.7"/>
<path d="M435 569 V523 Q435.6 519.6 439.5 520 Q444 521 447.5 524.3 Q451.5 526.8 455.6 523 V569 Z" fill="url(#gStaff)" stroke="#858585" stroke-width="0.8"/>
<rect x="428" y="569" width="34.4" height="4.3" fill="#c4c4c4" stroke="#808080" stroke-width="0.8"/>
<line x1="402.5" y1="573.5" x2="490.5" y2="573.5" stroke="#111" stroke-width="0.9"/>
<rect x="341.3" y="208.7" width="64.9" height="37.4" rx="4.5" fill="#fff" stroke="#111" stroke-width="1.4"/>
<text transform="translate(348.7 227.9) rotate(0.03) skewX(-6) scale(1 1.12)" font-size="14.6" font-weight="bold" font-style="italic" textLength="50.8" lengthAdjust="spacingAndGlyphs" style="fill:#000;stroke:#000;stroke-width:0.6px">Delta</text>
<rect x="348" y="229.3" width="51.3" height="9.4" fill="#000"/>
<text transform="translate(350.6 237.2) rotate(0.03) scale(1 0.9)" font-size="9.6" font-weight="bold" textLength="47.3" lengthAdjust="spacingAndGlyphs" style="fill:#fff;stroke:none">OHM</text>
<text transform="translate(68.2 732.5) rotate(0.03)" font-size="10.4" font-weight="bold" textLength="216.4" lengthAdjust="spacingAndGlyphs" style="fill:#1a1a1a;stroke:#1a1a1a;stroke-width:0.25px">Fig. 8 – Mechanical dimensions, installation modes</text>
</svg>
</body></html>
